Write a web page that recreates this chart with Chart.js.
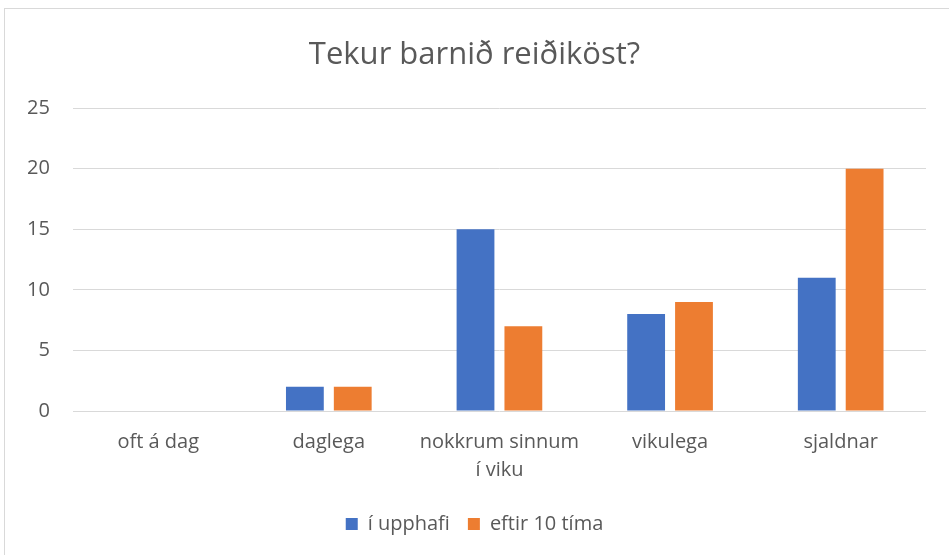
<!DOCTYPE html>
<html>
<head>
<meta charset="utf-8">
<script src="https://cdn.jsdelivr.net/npm/chart.js@4"></script>
<style>
  body { margin: 0; background: #fff; }
  #wrap { position: relative; width: 949px; height: 555px; }
  #frame { position: absolute; left: 4px; top: 8px; width: 960px; height: 560px; border: 1px solid #d9d9d9; }
</style>
</head>
<body>
<div id="wrap">
  <div id="frame"></div>
  <canvas id="myChart" width="949" height="555"></canvas>
</div>
<script>
// categories and values
const categories = ["oft á dag", "daglega", ["nokkrum sinnum", "í viku"], "vikulega", "sjaldnar"];
const beforeValues = [0, 2, 15, 8, 11];
const afterValues = [0, 2, 7, 9, 20];
const yTicks = [0, 5, 10, 15, 20, 25];

const fontName = "'Open Sans', sans-serif";
const textColor = "#595959";

const data = {
  labels: categories,
  datasets: [
    {
      label: "í upphafi",
      data: beforeValues,
      backgroundColor: "#4472C4",
      categoryPercentage: 0.561,
      barPercentage: 0.79,
    },
    {
      label: "eftir 10 tíma",
      data: afterValues,
      backgroundColor: "#ED7D31",
      categoryPercentage: 0.561,
      barPercentage: 0.79,
    },
  ],
};

const config = {
  type: "bar",
  data: data,
  options: {
    responsive: false,
    animation: false,
    layout: { padding: { left: 4, right: 4, top: 31, bottom: 11 } },
    plugins: {
      title: {
        display: true,
        text: "Tekur barnið reiðiköst?",
        color: textColor,
        font: { family: fontName, size: 31, weight: "normal" },
        padding: { top: 6, bottom: 34 },
      },
      legend: {
        position: "bottom",
        labels: {
          color: textColor,
          font: { family: fontName, size: 20 },
          boxWidth: 12,
          boxHeight: 12,
          padding: 18,
        },
      },
      tooltip: { enabled: false },
    },
    scales: {
      x: {
        grid: { display: false },
        border: { display: false },
        ticks: {
          color: textColor,
          font: { family: fontName, size: 20, lineHeight: 1.4 },
          maxRotation: 0,
          padding: 9,
        },
        afterFit: (axis) => {
          axis.height += 3;
        },
      },
      y: {
        min: 0,
        max: 25,
        afterBuildTicks: (axis) => {
          axis.ticks = yTicks.map((v) => ({ value: v }));
        },
        grid: { color: "#d9d9d9", lineWidth: 1, drawTicks: false },
        border: { display: false },
        ticks: {
          color: textColor,
          font: { family: fontName, size: 20 },
          padding: 23,
        },
      },
      // empty strip on the right so the plot ends before the frame edge
      yRight: {
        position: "right",
        grid: { display: false },
        border: { display: false },
        ticks: { display: false },
        afterFit: (axis) => {
          axis.width = 19;
        },
      },
    },
  },
};

const ctx = document.getElementById("myChart");
const myChart = new Chart(ctx, config);
</script>
</body>
</html>
